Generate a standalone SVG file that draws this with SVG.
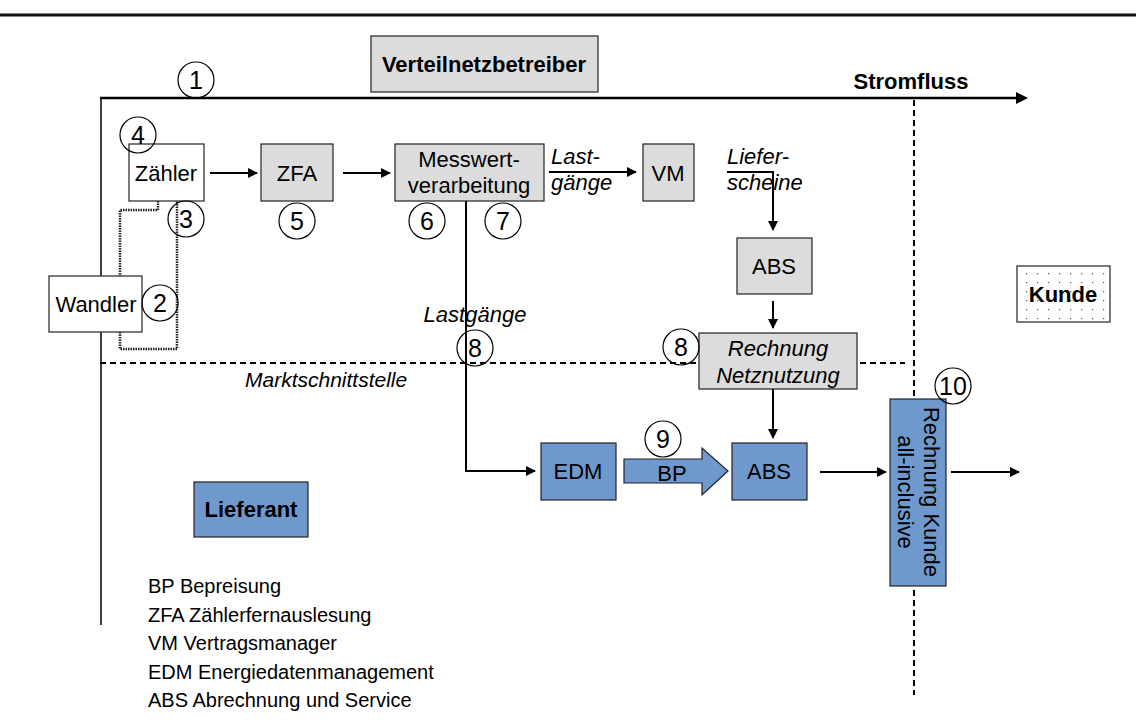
<svg xmlns="http://www.w3.org/2000/svg" width="1136" height="725" viewBox="0 0 1136 725">
<style>
text{font-family:"Liberation Sans",Arial,sans-serif;fill:#000}
.t{font-size:22px;text-anchor:middle}
.b{font-weight:bold}
.i{font-style:italic}
.gray{fill:#dcdcdc;stroke:#222;stroke-width:1.2}
.white{fill:#fff;stroke:#222;stroke-width:1.2}
.blue{fill:#6f99cc;stroke:#222;stroke-width:1.2}
.num{fill:none;stroke:#000;stroke-width:1.2}
.nt{font-size:25px;text-anchor:middle}
.c{fill:none;stroke:#000;stroke-width:2}
.dash{fill:none;stroke:#000;stroke-width:2;stroke-dasharray:6 4}
.dot{fill:none;stroke:#222;stroke-width:2.5;stroke-dasharray:1.5 1}
.leg{font-size:20px}
</style>
<defs>
<marker id="ah" markerWidth="10" markerHeight="10" refX="9" refY="5" orient="auto" markerUnits="userSpaceOnUse"><path d="M0,0 L10,5 L0,10 z" fill="#000"/></marker>
<pattern id="dots" width="11" height="9" patternUnits="userSpaceOnUse"><rect width="11" height="9" fill="#fff"/><rect x="3" y="3" width="1.2" height="1.2" fill="#555"/></pattern>
</defs>
<rect width="1136" height="725" fill="#fff"/>
<line x1="0" y1="15" x2="1136" y2="15" stroke="#111" stroke-width="3"/>

<g id="frame">
<line x1="101" y1="98" x2="101" y2="625" stroke="#000" stroke-width="1.5"/>
<line x1="914" y1="100" x2="914" y2="695" class="dash"/>
<line x1="100" y1="363" x2="905" y2="363" class="dash"/>
<text x="245" y="387" class="i" font-size="21">Marktschnittstelle</text>
<line x1="100" y1="98" x2="1018" y2="98" stroke="#000" stroke-width="2.5"/>
<path d="M1016,92 L1028,98 L1016,104 z" fill="#000"/>
<text x="911" y="89" class="b" font-size="22" text-anchor="middle">Stromfluss</text>
</g>

<g id="connectors">
<path class="dot" d="M158,201 V210 H120 V276"/>
<path class="dot" d="M120,332 V349 H177 V201"/>
<line x1="210" y1="173" x2="257" y2="173" class="c" marker-end="url(#ah)"/>
<line x1="343" y1="173" x2="390" y2="173" class="c" marker-end="url(#ah)"/>
<line x1="549" y1="172" x2="636" y2="172" class="c" marker-end="url(#ah)"/>
<path d="M727,172 H773 V230" class="c" marker-end="url(#ah)"/>
<line x1="773" y1="301" x2="773" y2="328" class="c" marker-end="url(#ah)"/>
<line x1="773" y1="389" x2="773" y2="438" class="c" marker-end="url(#ah)"/>
<path d="M466,201 V471 H535" class="c" marker-end="url(#ah)"/>
<line x1="820" y1="472" x2="886" y2="472" class="c" marker-end="url(#ah)"/>
<line x1="951" y1="472" x2="1019" y2="472" class="c" marker-end="url(#ah)"/>
<path d="M624,459 H702 V448 L728,471 L702,495 V483 H624 z" class="blue"/>
<text x="672" y="481" class="t">BP</text>
</g>

<g id="verteilnetzbetreiber"><rect x="371" y="36" width="227" height="56" class="gray"/><text x="484" y="72" class="t b">Verteilnetzbetreiber</text></g>
<g id="zaehler"><rect x="129" y="144" width="75" height="57" class="white"/><text x="166" y="181" class="t">Zähler</text></g>
<g id="wandler"><rect x="49" y="276" width="93" height="56" class="white"/><text x="96" y="312" class="t">Wandler</text></g>
<g id="zfa"><rect x="261" y="144" width="72" height="57" class="gray"/><text x="297" y="181" class="t">ZFA</text></g>
<g id="messwert"><rect x="395" y="144" width="149" height="57" class="gray"/><text x="469" y="167" class="t">Messwert-</text><text x="469" y="193" class="t">verarbeitung</text></g>
<g id="lastgaenge1"><text x="551" y="164" class="i" font-size="22">Last-</text><text x="551" y="190" class="i" font-size="22">gänge</text></g>
<g id="vm"><rect x="643" y="144" width="51" height="57" class="gray"/><text x="668" y="181" class="t">VM</text></g>
<g id="lieferscheine"><text x="727" y="164" class="i" font-size="22">Liefer-</text><text x="727" y="190" class="i" font-size="22">scheine</text></g>
<g id="abs1"><rect x="737" y="238" width="75" height="56" class="gray"/><text x="774" y="274" class="t">ABS</text></g>
<g id="rechnungnetz"><rect x="699" y="333" width="158" height="56" class="gray"/><text x="778" y="356" class="t i">Rechnung</text><text x="778" y="383" class="t i">Netznutzung</text></g>
<g id="lastgaenge2"><text x="475" y="322" class="t i">Lastgänge</text></g>
<g id="edm"><rect x="541" y="443" width="75" height="57" class="blue"/><text x="578" y="479" class="t">EDM</text></g>
<g id="abs2"><rect x="732" y="443" width="75" height="57" class="blue"/><text x="769" y="479" class="t">ABS</text></g>
<g id="rechnungkunde"><rect x="890" y="399" width="56" height="187" class="blue"/>
<text transform="translate(924,492) rotate(90)" class="t">Rechnung Kunde</text>
<text transform="translate(898,492) rotate(90)" class="t">all-inclusive</text></g>
<g id="kunde"><rect x="1017" y="266" width="93" height="56" fill="url(#dots)" stroke="#222" stroke-width="1.2"/><text x="1063" y="302" class="t b">Kunde</text></g>
<g id="lieferant"><rect x="194" y="482" width="114" height="55" class="blue"/><text x="251" y="517" class="t b">Lieferant</text></g>

<g id="numbers">
<circle cx="196" cy="80" r="18" class="num"/><text x="196" y="89" class="nt">1</text>
<circle cx="160" cy="303" r="18" class="num"/><text x="160" y="312" class="nt">2</text>
<circle cx="186" cy="219" r="18" class="num"/><text x="186" y="228" class="nt">3</text>
<circle cx="138" cy="135" r="18" class="num"/><text x="138" y="144" class="nt">4</text>
<circle cx="297" cy="221" r="18" class="num"/><text x="297" y="230" class="nt">5</text>
<circle cx="427" cy="221" r="18" class="num"/><text x="427" y="230" class="nt">6</text>
<circle cx="503" cy="221" r="18" class="num"/><text x="503" y="230" class="nt">7</text>
<circle cx="475" cy="348" r="18" class="num"/><text x="475" y="357" class="nt">8</text>
<circle cx="681" cy="347" r="18" class="num"/><text x="681" y="356" class="nt">8</text>
<circle cx="663" cy="439" r="18" fill="#fff" stroke="#000" stroke-width="1.2"/><text x="663" y="448" class="nt">9</text>
<circle cx="953" cy="386" r="18" class="num"/><text x="953" y="395" class="nt">10</text>
</g>

<g id="legend">
<text x="148" y="593" class="leg">BP Bepreisung</text>
<text x="148" y="622" class="leg">ZFA Zählerfernauslesung</text>
<text x="148" y="650" class="leg">VM Vertragsmanager</text>
<text x="148" y="679" class="leg">EDM Energiedatenmanagement</text>
<text x="148" y="707" class="leg">ABS Abrechnung und Service</text>
</g>
</svg>
